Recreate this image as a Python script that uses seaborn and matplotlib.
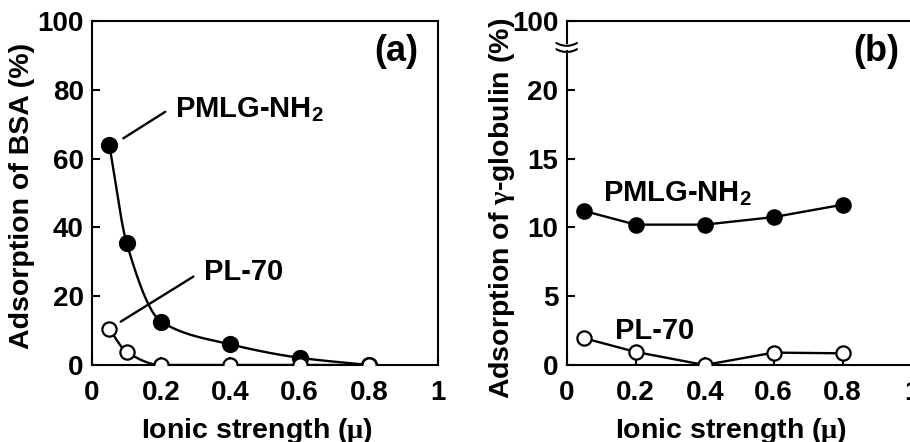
import numpy as np
import pandas as pd
import matplotlib
matplotlib.use("Agg")
import matplotlib.pyplot as plt
import seaborn as sns

# ---- data ----
x_a = [0.05, 0.1, 0.2, 0.4, 0.6, 0.8]
bsa_pmlg = [64.0, 35.5, 12.6, 6.0, 2.1, 0.0]
bsa_pl70 = [10.5, 3.8, 0.0, 0.0, 0.0, 0.0]

x_b = [0.05, 0.2, 0.4, 0.6, 0.8]
glob_pmlg = [11.2, 10.2, 10.2, 10.75, 11.65]
glob_pl70 = [1.95, 0.95, 0.0, 0.9, 0.85]

x_ticks = [0, 0.2, 0.4, 0.6, 0.8, 1.0]
x_ticklabels = ["0", "0.2", "0.4", "0.6", "0.8", "1"]
ya_ticks = [0, 20, 40, 60, 80, 100]
yb_ticks = [0, 5, 10, 15, 20, 25]
yb_ticklabels = ["0", "5", "10", "15", "20", "100"]

sns.set_style("ticks")
plt.rcParams["font.family"] = ["Liberation Sans", "DejaVu Sans"]
plt.rcParams["font.weight"] = "bold"
plt.rcParams["mathtext.fontset"] = "custom"
plt.rcParams["mathtext.rm"] = "Liberation Serif"
plt.rcParams["mathtext.bf"] = "Liberation Sans:bold"
plt.rcParams["axes.linewidth"] = 1.5
for k in ("text.color", "axes.edgecolor", "xtick.color", "ytick.color", "axes.labelcolor"):
    plt.rcParams[k] = "black"


def pchip(x, y, xs):
    x = np.asarray(x, float); y = np.asarray(y, float)
    h = np.diff(x); d = np.diff(y) / h
    n = len(x); m = np.zeros(n)
    for k in range(1, n - 1):
        if d[k - 1] * d[k] > 0:
            w1 = 2 * h[k] + h[k - 1]; w2 = h[k] + 2 * h[k - 1]
            m[k] = (w1 + w2) / (w1 / d[k - 1] + w2 / d[k])
    m[0] = d[0]; m[-1] = d[-1] if d[-1] * d[-2] > 0 else 0.0
    out = np.empty_like(xs)
    for i, xv in enumerate(xs):
        k = min(np.searchsorted(x, xv, side="right") - 1, n - 2)
        t = (xv - x[k]) / h[k]
        h00 = 2 * t**3 - 3 * t**2 + 1; h10 = t**3 - 2 * t**2 + t
        h01 = -2 * t**3 + 3 * t**2; h11 = t**3 - t**2
        out[i] = h00 * y[k] + h10 * h[k] * m[k] + h01 * y[k + 1] + h11 * h[k] * m[k + 1]
    return out


fig = plt.figure(figsize=(9.1, 4.42), dpi=100)
axa = fig.add_axes([92 / 910, 1 - 365 / 442, 346 / 910, 344 / 442])
axb = fig.add_axes([566.7 / 910, 1 - 365 / 442, 345 / 910, 344 / 442])

# ---- panel (a) ----
xs = np.linspace(x_a[0], x_a[-1], 400)
sns.lineplot(x=xs, y=pchip(x_a, bsa_pmlg, xs), ax=axa, color="black", lw=1.7, zorder=2)
sns.lineplot(x=xs, y=np.clip(pchip(x_a, bsa_pl70, xs), 0, None), ax=axa, color="black", lw=1.7, zorder=2)
sns.scatterplot(x=x_a, y=bsa_pmlg, ax=axa, color="black", s=130, edgecolor="black", linewidth=1, zorder=3)
sns.scatterplot(x=x_a, y=bsa_pl70, ax=axa, color="white", s=105, edgecolor="black", linewidth=1.6, zorder=4)

axa.set_xlim(0, 1)
axa.set_ylim(0, 100)
axa.set_yticks(ya_ticks)
axa.set_yticklabels([str(v) for v in ya_ticks])

axa.plot([0.0905, 0.2116], [65.9, 73.6], color="black", lw=1.7)
axa.plot([0.083, 0.293], [12.6, 25.7], color="black", lw=1.7)
axa.text(0.24, 72, r"PMLG-NH$_{\mathbf{2}}$", fontsize=21, fontweight="bold", va="baseline", ha="left")
axa.text(0.324, 24.7, "PL-70", fontsize=21, fontweight="bold", va="baseline", ha="left")
axa.text(0.88, 91, "(a)", fontsize=26, fontweight="bold", va="center", ha="center")

# ---- panel (b) ----
sns.lineplot(x=x_b, y=glob_pmlg, ax=axb, color="black", lw=1.7, zorder=2)
sns.lineplot(x=x_b, y=glob_pl70, ax=axb, color="black", lw=1.7, zorder=2)
sns.scatterplot(x=x_b, y=glob_pmlg, ax=axb, color="black", s=120, edgecolor="black", linewidth=1, zorder=3)
sns.scatterplot(x=x_b, y=glob_pl70, ax=axb, color="white", s=105, edgecolor="black", linewidth=1.6, zorder=4)

axb.set_xlim(0, 1)
axb.set_ylim(0, 25)
axb.set_yticks(yb_ticks)
axb.set_yticklabels(yb_ticklabels)
axb.text(0.105, 11.9, r"PMLG-NH$_{\mathbf{2}}$", fontsize=21, fontweight="bold", va="baseline", ha="left")
axb.text(0.14, 1.87, "PL-70", fontsize=21, fontweight="bold", va="baseline", ha="left")
axb.text(0.896, 22.8, "(b)", fontsize=26, fontweight="bold", va="center", ha="center")

# axis break marker on (b) left spine
tr = axb.transAxes
axb.add_patch(plt.Rectangle((-0.01, 0.917), 0.02, 0.017, transform=tr, facecolor="white",
                            edgecolor="none", clip_on=False, zorder=5))
tt = np.linspace(-1, 1, 30)
for yc in (0.936, 0.918):
    axb.plot(tt * 0.03, yc - 0.008 + 0.008 * tt**2, transform=tr, color="black", lw=1.5,
             clip_on=False, zorder=6)

for ax in (axa, axb):
    ax.set_xticks(x_ticks)
    ax.set_xticklabels(x_ticklabels)
    ax.tick_params(axis="both", direction="in", length=6, width=1.5, labelsize=20, colors="black")
    ax.tick_params(axis="x", pad=11)
    ax.tick_params(axis="y", pad=6)
    for lab in ax.get_xticklabels() + ax.get_yticklabels():
        lab.set_fontweight("bold")
    for s in ax.spines.values():
        s.set_linewidth(1.5)
        s.set_visible(True)
        s.set_color("black")
    ax.set_xlabel("")
    ax.set_ylabel("")
    ax.set_facecolor("white")

fig.text(257 / 910, 1 - 437.5 / 442, r"Ionic strength ($\mathrm{\mu}$)", fontsize=20.5,
         fontweight="bold", ha="center", va="baseline")
fig.text(731 / 910, 1 - 437.5 / 442, r"Ionic strength ($\mathrm{\mu}$)", fontsize=20.5,
         fontweight="bold", ha="center", va="baseline")
fig.text(22 / 910, 1 - 196 / 442, "Adsorption of BSA (%)", fontsize=20.5, fontweight="bold",
         rotation=90, ha="center", va="center")
fig.text(502 / 910, 1 - 208 / 442, r"Adsorption of $\mathrm{\gamma}$-globulin (%)", fontsize=20.5,
         fontweight="bold", rotation=90, ha="center", va="center")

fig.savefig("out.png", dpi=100, facecolor="white")
